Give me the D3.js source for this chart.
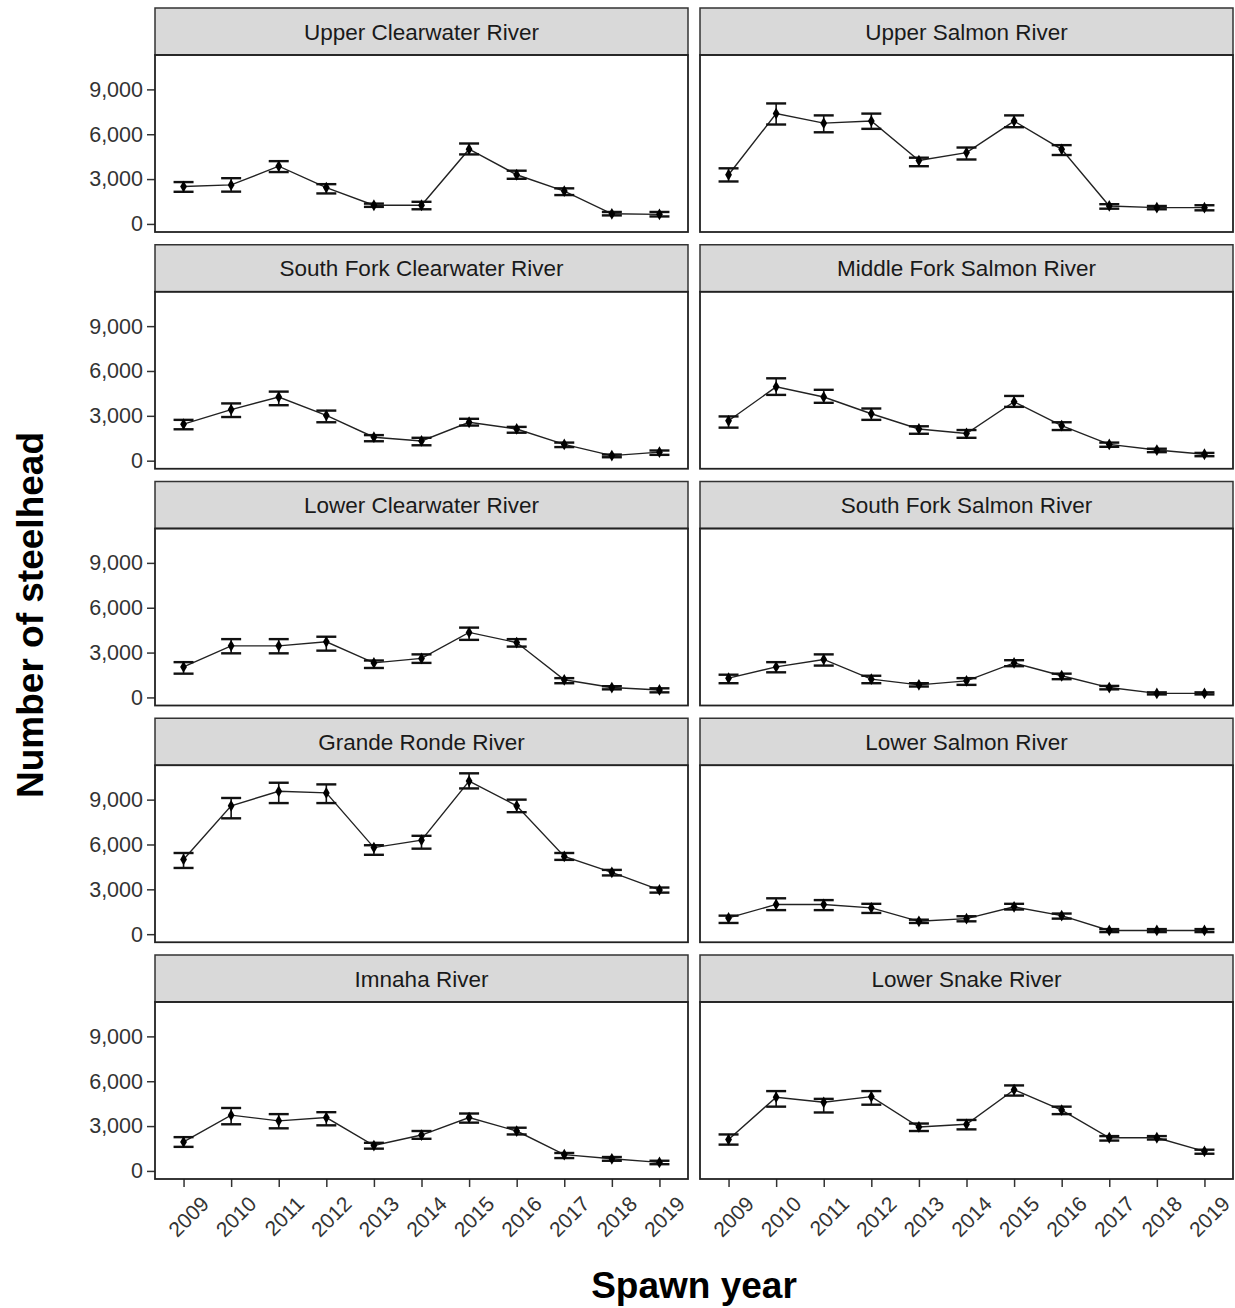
<!DOCTYPE html>
<html lang="en">
<head>
<meta charset="UTF-8">
<title>Steelhead</title>
<script src="https://d3js.org/d3.v7.min.js"></script>
<style>
  body { margin: 0; background: #fff; }
  svg text { font-family: "Liberation Sans", Arial, sans-serif; }
</style>
</head>
<body>
<svg id="chart" width="1235" height="1308"></svg>
<script>
// spawn years (x categories)
var years = ["2009","2010","2011","2012","2013","2014","2015","2016","2017","2018","2019"];
var yTicks = [0, 3000, 6000, 9000];

// panel order: left column then right column per row
var rivers = [
  "Upper Clearwater River", "Upper Salmon River",
  "South Fork Clearwater River", "Middle Fork Salmon River",
  "Lower Clearwater River", "South Fork Salmon River",
  "Grande Ronde River", "Lower Salmon River",
  "Imnaha River", "Lower Snake River"
];

// estimates and confidence limits, one array per river
var upperClearwater     = [2500, 2610, 3860, 2430, 1250, 1250, 5000, 3290, 2200, 680, 640];
var upperClearwaterLo   = [2150, 2160, 3470, 2040, 1140,  980, 4650, 3020, 1930, 570, 500];
var upperClearwaterHi   = [2800, 3060, 4200, 2660, 1360, 1480, 5380, 3560, 2380, 800, 800];

var upperSalmon         = [3290, 7380, 6740, 6880, 4240, 4770, 6880, 4990, 1200, 1090, 1090];
var upperSalmonLo       = [2840, 6650, 6130, 6360, 3860, 4310, 6470, 4610, 1020,  980,  910];
var upperSalmonHi       = [3720, 8060, 7260, 7380, 4430, 5110, 7260, 5270, 1320, 1200, 1250];

var sfClearwater        = [2440, 3420, 4260, 3030, 1570, 1320, 2570, 2120, 1090, 340, 570];
var sfClearwaterLo      = [2100, 2920, 3710, 2570, 1300, 1030, 2350, 1870,  910, 230, 390];
var sfClearwaterHi      = [2730, 3830, 4620, 3350, 1710, 1530, 2800, 2260, 1210, 410, 680];

var mfSalmon            = [2670, 4940, 4260, 3140, 2120, 1820, 3940, 2350, 1090, 710, 430];
var mfSalmonLo          = [2210, 4400, 3870, 2730, 1800, 1530, 3600, 2050,  930, 570, 300];
var mfSalmonHi          = [2960, 5510, 4740, 3490, 2300, 2050, 4330, 2570, 1210, 800, 520];

var lowerClearwater     = [2040, 3450, 3450, 3720, 2310, 2610, 4350, 3670, 1180, 660, 500];
var lowerClearwaterLo   = [1590, 2950, 2950, 3130, 1970, 2310, 3850, 3400,  950, 540, 340];
var lowerClearwaterHi   = [2360, 3900, 3900, 4060, 2470, 2880, 4670, 3900, 1290, 750, 610];

var sfSalmon            = [1290, 2040, 2540, 1220, 840, 1110, 2310, 1450, 660, 270, 270];
var sfSalmonLo          = [ 950, 1680, 2130,  950, 730,  840, 2090, 1220, 540, 200, 200];
var sfSalmonHi          = [1520, 2360, 2880, 1450, 950, 1290, 2490, 1590, 770, 340, 340];

var grandeRonde         = [5000, 8590,  9560,  9450, 5790, 6290, 10240, 8590, 5200, 4140, 2960];
var grandeRondeLo       = [4430, 7750,  8770,  8770, 5310, 5720,  9750, 8160, 4970, 3930, 2780];
var grandeRondeHi       = [5430, 9110, 10130, 10020, 5950, 6580, 10760, 9000, 5430, 4300, 3120];

var lowerSalmon         = [1090, 1990, 1990, 1760, 860, 1040, 1830, 1240, 250, 250, 250];
var lowerSalmonLo       = [ 750, 1610, 1610, 1420, 750,  860, 1650, 1040, 140, 140, 140];
var lowerSalmonHi       = [1240, 2400, 2280, 2030, 970, 1200, 2030, 1380, 340, 340, 340];

var imnaha              = [1940, 3730, 3350, 3570, 1700, 2400, 3570, 2670, 1090, 810, 570];
var imnahaLo            = [1610, 3120, 2850, 3050, 1490, 2150, 3230, 2440,  860, 680, 450];
var imnahaHi            = [2260, 4210, 3800, 3930, 1880, 2670, 3840, 2890, 1200, 930, 680];

var lowerSnake          = [2100, 4930, 4590, 4970, 2940, 3120, 5430, 4070, 2220, 2220, 1310];
var lowerSnakeLo        = [1760, 4300, 3910, 4430, 2670, 2780, 5040, 3800, 2030, 2100, 1150];
var lowerSnakeHi        = [2440, 5340, 4820, 5340, 3170, 3410, 5720, 4300, 2330, 2330, 1420];

var series = [
  [upperClearwater, upperClearwaterLo, upperClearwaterHi],
  [upperSalmon, upperSalmonLo, upperSalmonHi],
  [sfClearwater, sfClearwaterLo, sfClearwaterHi],
  [mfSalmon, mfSalmonLo, mfSalmonHi],
  [lowerClearwater, lowerClearwaterLo, lowerClearwaterHi],
  [sfSalmon, sfSalmonLo, sfSalmonHi],
  [grandeRonde, grandeRondeLo, grandeRondeHi],
  [lowerSalmon, lowerSalmonLo, lowerSalmonHi],
  [imnaha, imnahaLo, imnahaHi],
  [lowerSnake, lowerSnakeLo, lowerSnakeHi]
];

var svg = d3.select("#chart");

var colX = [155, 700],
    panelW = 533,
    stripH = 47,
    panelH = 177,
    rowTop0 = 8,
    rowPitch = 236.75,
    nRows = 5;

var x = d3.scalePoint().domain(years).range([0, panelW]).padding(0.6);
var fmt = d3.format(",");

rivers.forEach(function (name, i) {
  var row = Math.floor(i / 2), col = i % 2;
  var top = rowTop0 + row * rowPitch;
  var g = svg.append("g").attr("transform", "translate(" + colX[col] + "," + top + ")");

  // strip
  g.append("rect")
    .attr("x", 0).attr("y", 0)
    .attr("width", panelW).attr("height", stripH)
    .attr("fill", "#D9D9D9").attr("stroke", "#333").attr("stroke-width", 1.5);
  g.append("text")
    .attr("x", panelW / 2).attr("y", stripH / 2 + 8)
    .attr("text-anchor", "middle")
    .attr("font-size", 22.5)
    .attr("fill", "#1A1A1A")
    .text(name);

  var y = d3.scaleLinear().domain([-540, 11300]).range([stripH + panelH, stripH]);
  var p = g.append("g");

  // y axis on left column only
  if (col == 0) {
    var yAxis = d3.axisLeft(y).tickValues(yTicks).tickFormat(fmt).tickSize(8).tickPadding(4);
    var ya = p.append("g").call(yAxis);
    ya.select(".domain").remove();
    ya.selectAll("line").attr("stroke", "#333").attr("stroke-width", 1.5);
    ya.selectAll("text").attr("font-size", 21.5).attr("fill", "#333")
      .attr("font-family", "Liberation Sans, Arial, sans-serif");
  }

  // x axis on bottom row only
  if (row == nRows - 1) {
    var xAxis = d3.axisBottom(x).tickSize(8).tickFormat("");
    var xa = p.append("g").attr("transform", "translate(0," + (stripH + panelH) + ")").call(xAxis);
    xa.select(".domain").remove();
    xa.selectAll("line").attr("stroke", "#333").attr("stroke-width", 1.5);
    xa.selectAll(".tick").append("text")
      .attr("transform", "translate(21,21) rotate(-45)")
      .attr("text-anchor", "end")
      .attr("dy", "0.35em")
      .attr("font-size", 21)
      .attr("fill", "#333")
      .attr("font-family", "Liberation Sans, Arial, sans-serif")
      .text(function (d) { return d; });
  }

  var s = series[i];
  var pts = years.map(function (yr, k) { return { yr: yr, v: s[0][k], lo: s[1][k], hi: s[2][k] }; });

  // line
  var line = d3.line().x(function (d) { return x(d.yr); }).y(function (d) { return y(d.v); });
  p.append("path").datum(pts)
    .attr("d", line).attr("fill", "none").attr("stroke", "#222").attr("stroke-width", 1.4);

  // error bars
  var eb = p.selectAll(".eb").data(pts).enter().append("g").attr("class", "eb");
  eb.append("line")
    .attr("x1", function (d) { return x(d.yr); }).attr("x2", function (d) { return x(d.yr); })
    .attr("y1", function (d) { return y(d.lo); }).attr("y2", function (d) { return y(d.hi); })
    .attr("stroke", "#111").attr("stroke-width", 1.6);
  [1, 2].forEach(function (j) {
    eb.append("line")
      .attr("x1", function (d) { return x(d.yr) - 10; }).attr("x2", function (d) { return x(d.yr) + 10; })
      .attr("y1", function (d) { return y(j == 1 ? d.lo : d.hi); })
      .attr("y2", function (d) { return y(j == 1 ? d.lo : d.hi); })
      .attr("stroke", "#111").attr("stroke-width", 2.4);
  });

  // points
  p.selectAll(".pt").data(pts).enter().append("path")
    .attr("transform", function (d) { return "translate(" + x(d.yr) + "," + y(d.v) + ")"; })
    .attr("d", d3.symbol().type(d3.symbolDiamond).size(40))
    .attr("fill", "#000");

  // panel border
  g.append("rect")
    .attr("x", 0).attr("y", stripH)
    .attr("width", panelW).attr("height", panelH)
    .attr("fill", "none").attr("stroke", "#222").attr("stroke-width", 1.8);
});

// axis titles
svg.append("text")
  .attr("transform", "translate(43,615) rotate(-90)")
  .attr("text-anchor", "middle")
  .attr("font-size", 37).attr("font-weight", "bold").attr("fill", "#000")
  .text("Number of steelhead");

svg.append("text")
  .attr("x", 694).attr("y", 1298)
  .attr("text-anchor", "middle")
  .attr("font-size", 37).attr("font-weight", "bold").attr("fill", "#000")
  .text("Spawn year");
</script>
</body>
</html>
